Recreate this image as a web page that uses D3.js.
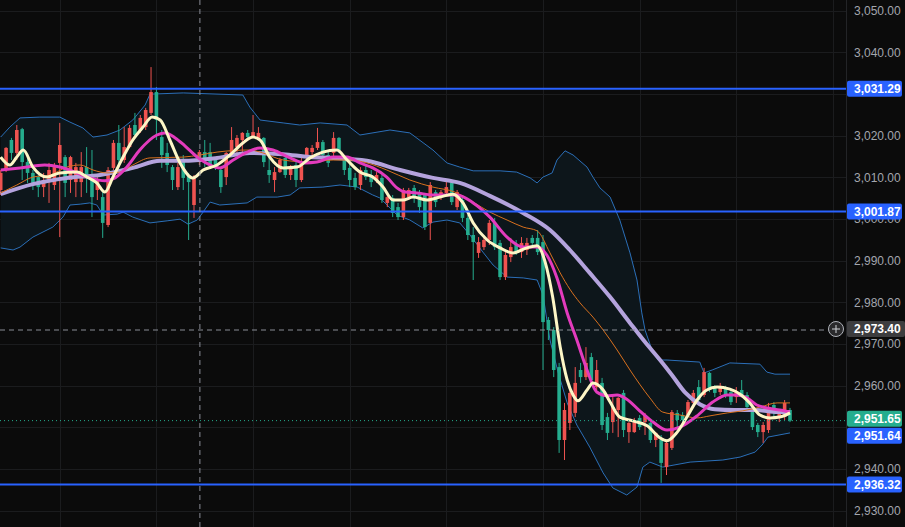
<!DOCTYPE html>
<html>
<head>
<meta charset="utf-8" />
<style>
  body { margin: 0; background: #0b0b0b; }
  svg { display: block; }
  .tick-label { font-family: 'Liberation Sans', Arial, sans-serif; font-size: 12px; fill: #a3a6ae; }
  .box-label { font-family: 'Liberation Sans', Arial, sans-serif; font-size: 12px; fill: #fff; font-weight: bold; }
</style>
</head>
<body>
<div class="chart"></div>
<script src="https://d3js.org/d3.v7.min.js"></script>
<script>

//// candles (open / high / low / close) ////
var opens = [3007.0,3011.8,3019.0,3015.9,3021.6,3013.7,3011.1,3010.1,3007.7,3008.9,3008.2,3013.5,3014.9,3009.4,3008.9,3008.9,3012.5,3010.6,3007.0,3005.3,
  2998.6,3012.3,3018.3,3014.2,3017.3,3022.6,3021.4,3022.1,3025.5,3030.5,3019.7,3015.9,3012.5,3007.7,3014.2,3010.6,3003.4,3013.7,3016.1,3016.1,
  3014.2,3011.8,3010.1,3015.9,3017.3,3019.0,3020.7,3019.7,3019.5,3019.5,3011.8,3009.4,3011.3,3014.7,3010.6,3013.0,3009.4,3014.9,3016.1,3017.1,
  3018.5,3015.4,3015.9,3019.5,3014.7,3012.3,3009.9,3008.2,3011.8,3010.6,3009.4,3009.9,3003.9,3005.1,3002.9,3000.5,3005.3,3007.5,3006.5,3005.8,
  2999.1,3006.5,3005.3,3006.3,3008.7,3002.9,3004.6,3000.3,2996.2,2991.9,2993.3,2995.0,2999.1,2994.3,2986.1,2990.9,2993.8,2992.1,2992.6,2995.5,
  2995.5,2994.5,2975.8,2973.4,2964.5,2947.0,2951.1,2953.5,2963.8,2962.1,2966.9,2959.7,2960.7,2952.5,2951.3,2954.2,2958.3,2948.9,2948.9,2952.3,
  2951.3,2951.1,2947.0,2947.0,2940.5,2945.1,2953.5,2953.0,2953.0,2955.9,2959.7,2957.8,2963.1,2959.7,2958.5,2959.5,2958.5,2957.3,2959.0,2957.8,
  2954.9,2950.6,2948.9,2949.4,2955.4,2952.3,2952.5,2954.2];
var highs = [3011.8,3017.3,3019.5,3022.6,3021.9,3014.9,3011.8,3010.6,3011.1,3013.5,3013.5,3023.1,3015.4,3015.2,3013.5,3016.1,3017.3,3016.6,3010.1,3006.5,
  3012.5,3019.0,3022.6,3022.1,3022.6,3025.5,3025.0,3026.7,3036.5,3031.7,3021.4,3018.3,3013.0,3013.5,3015.4,3011.1,3010.6,3016.6,3019.0,3018.3,
  3014.9,3012.5,3016.1,3022.1,3020.2,3020.9,3021.4,3025.0,3022.1,3019.7,3014.7,3012.5,3014.7,3015.4,3013.0,3014.2,3014.7,3017.3,3017.8,3021.9,
  3019.0,3016.6,3020.9,3019.7,3015.4,3014.2,3011.1,3012.5,3013.0,3011.8,3011.3,3010.6,3006.3,3005.8,3003.9,3007.5,3007.5,3008.2,3007.0,3006.3,
  3008.9,3007.0,3007.0,3009.4,3009.4,3007.0,3005.8,3001.0,2998.1,2995.7,2996.2,2999.8,3000.3,2995.0,2992.6,2995.5,2995.0,2995.7,2995.5,2996.2,
  2997.4,2996.2,2976.5,2974.1,2965.5,2955.9,2959.0,2964.5,2965.5,2969.3,2967.9,2966.2,2961.9,2953.5,2957.3,2957.3,2959.0,2951.3,2952.3,2953.0,
  2953.5,2951.3,2948.9,2948.2,2947.0,2954.2,2954.2,2953.7,2956.6,2959.0,2961.4,2964.3,2963.3,2960.2,2960.7,2960.0,2959.0,2959.7,2961.4,2958.5,
  2955.4,2951.1,2951.3,2955.9,2956.1,2954.2,2956.6,2954.7];
var lows = [3005.8,3011.3,3014.2,3014.2,3009.4,3008.7,3007.0,3005.3,3005.3,3003.9,3007.0,2995.7,3005.3,3006.3,3005.3,3005.3,3006.3,3000.5,3004.6,2995.5,
  2998.1,3011.8,3012.5,3013.5,3017.1,3019.7,3020.7,3021.4,3025.0,3019.0,3012.3,3011.3,3007.0,3007.0,3007.0,2995.0,3000.3,3013.0,3012.5,3012.5,
  3011.8,3006.3,3008.2,3014.9,3015.9,3015.9,3019.0,3019.5,3019.0,3012.5,3008.7,3006.5,3011.1,3009.9,3009.4,3007.7,3008.9,3014.2,3015.4,3016.6,
  3014.9,3012.5,3014.9,3015.9,3010.6,3007.7,3007.0,3007.0,3009.4,3007.7,3008.7,3003.9,3002.9,3000.5,2999.8,2999.8,3004.6,3003.9,3001.5,2997.4,
  2995.0,3002.9,3004.6,3005.8,3003.4,3002.2,2999.3,2995.0,2985.4,2990.7,2992.6,2993.8,2992.6,2985.4,2985.4,2989.7,2991.4,2990.7,2991.4,2993.1,
  2991.4,2963.8,2971.0,2962.1,2943.9,2942.2,2949.4,2952.5,2960.7,2961.4,2960.7,2959.0,2949.4,2947.0,2948.7,2947.7,2947.7,2946.3,2948.7,2949.4,
  2948.2,2946.3,2945.3,2936.7,2938.6,2944.6,2950.1,2950.1,2952.5,2954.9,2955.9,2957.3,2958.5,2957.3,2957.8,2957.1,2955.4,2955.9,2957.3,2954.2,
  2949.4,2947.7,2946.3,2948.7,2952.5,2951.3,2951.8,2951.3];
var closes = [3011.1,3017.1,3015.9,3021.4,3013.7,3011.1,3008.7,3007.7,3009.4,3011.8,3012.5,3017.8,3008.7,3014.9,3012.5,3012.5,3010.1,3005.3,3009.4,2999.1,
  3011.8,3018.3,3014.2,3017.3,3021.9,3020.2,3024.3,3026.2,3030.5,3023.8,3015.4,3013.0,3009.4,3012.5,3009.9,3008.9,3009.9,3016.1,3014.7,3013.0,
  3012.5,3007.7,3015.9,3019.0,3019.5,3020.7,3019.7,3020.9,3020.7,3013.7,3010.6,3011.3,3014.2,3010.6,3012.5,3009.4,3013.7,3017.1,3017.1,3018.5,
  3015.4,3013.5,3019.5,3016.6,3011.8,3009.4,3007.7,3011.8,3010.1,3008.9,3010.6,3004.6,3005.3,3001.5,3000.5,3007.0,3007.0,3005.1,3002.9,2998.1,
  3008.2,3004.1,3006.5,3007.7,3004.1,3006.5,3000.3,2996.2,2994.5,2994.5,2995.0,2999.1,2993.3,2986.1,2991.4,2993.3,2992.1,2994.3,2994.3,2994.3,
  2992.1,2975.3,2973.4,2963.8,2947.0,2954.2,2958.3,2960.7,2962.1,2965.5,2961.4,2963.8,2950.6,2948.7,2954.9,2957.1,2949.4,2951.1,2951.3,2950.1,
  2953.0,2947.0,2948.7,2941.5,2946.3,2953.7,2951.8,2951.8,2956.1,2958.3,2956.6,2963.3,2959.0,2958.3,2960.0,2957.8,2956.1,2958.5,2957.8,2954.9,
  2950.1,2948.9,2950.6,2954.9,2953.5,2953.7,2955.9,2951.65];

//// indicator lines, as (candle index, price) ////
var fastIdx = [0,1.7,3.0,4.2,6.0,8.6,11.0,14.2,16.1,17.9,19.4,20.9,22.8,24.6,26.5,28.2,29.7,31.5,33.4,35.8,37.7,40.3,42.7,45.1,47.0,48.3,50.1,52.6,55.2,57.6,
  60.0,62.6,64.5,66.9,69.3,71.2,73.1,74.9,76.8,79.4,81.8,84.2,86.1,88.0,90.6,93.0,95.4,98.0,99.9,101.4,102.8,104.2,105.5,106.6,107.5,109.2,110.3,112.2,113.5,115.3,
  117.7,120.4,122.8,124.1,126.0,127.8,129.7,131.5,133.4,135.8,137.7,139.5,141.4,143.3,145.1,147];
var fastVal = [3014.9,3013.0,3014.9,3016.6,3012.5,3010.1,3011.1,3011.3,3010.1,3008.7,3006.5,3010.1,3014.9,3019.0,3022.1,3024.5,3023.8,3019.0,3013.5,3009.9,
  3011.8,3013.0,3015.4,3018.3,3019.7,3019.0,3014.9,3012.3,3012.5,3014.7,3016.1,3016.6,3014.2,3011.3,3010.1,3007.7,3004.6,3004.6,3005.3,3004.6,
  3005.3,3006.0,3003.9,2999.1,2995.0,2993.1,2991.9,2993.1,2993.6,2989.7,2981.3,2969.3,2961.4,2957.8,2956.4,2959.0,2960.7,2959.0,2956.1,2952.5,
  2951.6,2950.4,2947.5,2946.8,2948.9,2952.5,2956.6,2959.0,2959.7,2959.2,2958.0,2955.9,2953.0,2952.3,2952.5,2953.5];

var midIdx = [0,3.6,8.2,11.0,13.8,16.6,19.4,21.3,23.5,25.9,29.1,30.6,32.5,34.3,36.6,39.0,40.8,43.3,45.9,48.3,50.7,53.9,56.7,58.9,61.9,64.5,66.9,69.3,71.9,73.8,
  75.3,77.5,80.5,82.7,85.0,88.0,91.1,94.3,97.3,99.9,101.7,103.6,105.5,107.3,109.2,111.0,112.9,114.8,116.6,119.0,121.5,124.1,126.5,129.7,132.6,135.3,137.1,139.0,140.8,142.7,
  145.1,147];
var midVal = [3011.8,3012.3,3013.0,3012.5,3011.3,3009.9,3009.2,3009.9,3012.5,3016.6,3020.2,3020.7,3019.5,3017.6,3014.9,3013.0,3012.3,3014.2,3016.1,3017.1,
  3016.6,3014.7,3013.5,3013.7,3014.9,3014.9,3013.5,3012.3,3010.1,3007.5,3006.5,3006.3,3005.8,3005.8,3005.8,3003.9,3000.5,2995.7,2993.3,2993.3,
  2991.4,2985.9,2977.5,2971.0,2963.8,2958.5,2957.6,2957.8,2956.8,2954.0,2951.3,2949.4,2950.1,2952.8,2956.1,2957.8,2957.8,2957.1,2955.4,2954.7,
  2954.2,2953.7];

var basisIdx = [0,3.0,6.0,9.2,12.3,14.8,17.2,19.8,22.2,24.6,27.8,34.0,37.1,40.3,46.4,48.8,52.6,57.6,61.9,65.1,68.2,71.9,76.2,80.5,84.6,88.0,91.1,94.3,97.3,99.9,
  102.3,104.2,106.0,107.9,110.3,112.2,114.8,117.2,119.0,120.9,123.3,126.5,129.7,132.1,135.3,138.2,141.4,144.6,147];
var basisVal = [3006.3,3008.2,3010.1,3010.6,3012.5,3013.0,3011.8,3011.1,3011.3,3013.0,3014.7,3014.9,3015.4,3016.1,3016.6,3015.9,3014.2,3013.7,3014.2,3014.2,
  3013.5,3011.8,3009.4,3007.7,3006.5,3004.1,3001.7,2999.8,2998.1,2997.2,2991.9,2987.1,2983.2,2979.9,2976.5,2973.4,2968.6,2963.8,2960.4,2957.1,
  2953.7,2953.0,2952.3,2952.8,2953.5,2954.0,2954.9,2955.9,2955.9];

var slowIdx = [0,6.0,12.3,18.5,24.6,29.7,34.0,40.3,46.4,52.6,57.6,61.9,68.2,74.4,80.5,85.5,91.1,97.3,102.3,106.0,109.7,113.5,117.2,120.0,122.8,125.0,127.4,130.2,133.0,136.7,
  140.8,144.6,147];
var slowVal = [3006.0,3008.4,3009.9,3010.6,3012.3,3014.0,3014.0,3014.7,3015.9,3015.6,3014.9,3014.7,3014.0,3011.8,3009.9,3008.7,3005.6,3001.5,2997.4,2992.6,
  2987.1,2981.3,2975.1,2970.5,2966.2,2962.6,2958.5,2955.6,2954.4,2954.2,2954.2,2953.7,2953.7];

var upperIdx = [0,1.7,3.6,7.3,11.0,12.9,15.3,17.2,19.8,22.2,24.6,26.9,27.8,34.0,45.1,46.4,48.3,52.6,55.7,59.5,64.5,66.9,72.5,76.2,80.5,83.1,85.5,88.0,93.0,96.1,
  98.6,99.9,101.0,102.7,103.6,105.1,106.6,109.2,110.3,111.6,113.5,115.3,117.2,118.5,119.4,120.0,121.3,122.4,124.1,130.2,131.0,132.5,135.8,141.4,142.7,144.2,147];
var upperVal = [3019.7,3022.1,3024.3,3024.5,3024.5,3023.3,3021.9,3019.7,3020.2,3021.4,3023.8,3027.4,3030.0,3030.3,3029.8,3026.9,3023.8,3023.1,3022.6,3023.1,
  3022.6,3020.2,3021.4,3020.7,3016.6,3013.5,3012.5,3011.6,3011.6,3011.3,3009.9,3008.7,3010.1,3011.1,3014.2,3016.4,3015.4,3012.5,3010.1,3007.5,
  3005.3,2999.8,2991.9,2985.4,2977.5,2973.4,2968.6,2966.2,2966.2,2965.7,2963.1,2963.8,2965.5,2965.2,2963.3,2962.8,2962.8];

var lowerIdx = [0,2.3,3.6,6.0,9.7,11.6,12.9,14.8,16.6,17.9,19.1,21.7,22.8,24.6,27.8,31.0,33.4,34.9,36.6,37.7,39.0,40.8,45.9,47.7,51.5,53.9,55.7,60.0,63.2,66.4,
  69.3,70.6,72.5,73.8,76.2,78.6,80.5,83.1,85.5,87.4,89.8,91.7,94.3,97.3,99.9,101.0,102.3,103.8,105.5,107.3,109.7,112.2,114.0,116.6,118.5,119.6,120.9,123.3,128.4,134.5,
  137.7,140.5,141.8,142.9,147];
var lowerVal = [2993.1,2992.6,2993.3,2995.7,2998.1,3000.5,3003.4,3003.6,3003.9,3003.4,3001.0,3001.2,3001.7,3000.5,2999.1,2999.6,3000.0,2998.8,2999.8,3001.7,
  3004.1,3003.4,3003.9,3005.3,3005.3,3005.8,3007.5,3007.7,3008.2,3007.7,3005.8,3005.1,3002.7,3001.0,2999.8,2997.9,2999.3,2999.8,2999.1,2996.2,
  2992.1,2989.0,2986.1,2985.9,2985.4,2981.8,2971.0,2963.3,2955.9,2950.6,2945.3,2939.1,2935.5,2933.8,2935.7,2940.5,2941.7,2940.5,2941.7,2942.2,
  2942.9,2944.1,2945.8,2947.7,2948.7];

//// levels, axis ////
var levels = [3031.29, 3001.87, 2936.32];
// 3,030 and 2,950 sit fully behind the price tags, so they are not listed
var yTicks = [3050, 3040, 3020, 3010, 3000, 2990, 2980, 2970, 2960, 2940, 2930];
var gridTicks = [3050, 3040, 3030, 3020, 3010, 3000, 2990, 2980, 2970, 2960, 2950, 2940, 2930];
var gridIdx = [11, 29, 47, 65, 83, 101, 119, 137, 155];
var crossIdx = 37.1, crossPrice = 2973.40;
var lastPrice = 2951.65, bidPrice = 2951.64;

var W = 905, H = 527, plotW = 847;

var x = d3.scaleLinear().domain([0, 147]).range([0.7, 790]);
var y = d3.scaleLinear().domain([3052.6, 2926.12]).range([0, H]);
var fmt = d3.format(",.2f");

var svg = d3.select(".chart").append("svg")
    .attr("width", W)
    .attr("height", H);

svg.append("rect").attr("width", W).attr("height", H).attr("fill", "#0b0b0b");

svg.append("defs").append("clipPath").attr("id", "plot")
  .append("rect").attr("width", plotW).attr("height", H);

var plot = svg.append("g").attr("clip-path", "url(#plot)");

// grid
plot.append("g").selectAll("line").data(gridTicks).enter().append("line")
    .attr("x1", 0).attr("x2", plotW)
    .attr("y1", function(d) { return Math.round(y(d)) + 0.5; })
    .attr("y2", function(d) { return Math.round(y(d)) + 0.5; })
    .attr("stroke", "#1b1c1e");
plot.append("g").selectAll("line").data(gridIdx).enter().append("line")
    .attr("y1", 0).attr("y2", H)
    .attr("x1", function(d) { return Math.round(x(d)) + 0.5; })
    .attr("x2", function(d) { return Math.round(x(d)) + 0.5; })
    .attr("stroke", "#1b1c1e");

function pts(idx, val) {
  return idx.map(function(d, i) { return [d, val[i]]; });
}

// bollinger fill + bands
var upper = pts(upperIdx, upperVal), lower = pts(lowerIdx, lowerVal);
var lineL = d3.line().x(function(d) { return x(d[0]); }).y(function(d) { return y(d[1]); });
plot.append("path")
    .attr("d", lineL(upper.concat(lower.slice().reverse())) + "Z")
    .attr("fill", "#0d161b");
[upper, lower].forEach(function(b) {
  plot.append("path").attr("d", lineL(b))
      .attr("fill", "none").attr("stroke", "#2b6fb8").attr("stroke-width", 1);
});

// candles
var candles = opens.map(function(o, i) {
  return { i: i, o: o, h: highs[i], l: lows[i], c: closes[i] };
});
var cg = plot.append("g").selectAll("g").data(candles).enter().append("g");
function col(d) { return d.c >= d.o ? "#ef5350" : "#25ad8e"; }
cg.append("line")
    .attr("x1", function(d) { return x(d.i); })
    .attr("x2", function(d) { return x(d.i); })
    .attr("y1", function(d) { return y(d.h); })
    .attr("y2", function(d) { return y(d.l); })
    .attr("stroke", col).attr("stroke-width", 1);
cg.append("rect")
    .attr("x", function(d) { return x(d.i) - 1.8; })
    .attr("width", 3.6)
    .attr("y", function(d) { return y(Math.max(d.o, d.c)); })
    .attr("height", function(d) { return Math.max(1, Math.abs(y(d.o) - y(d.c))); })
    .attr("fill", col);

// moving averages
var curve = d3.line().curve(d3.curveMonotoneX)
    .x(function(d) { return x(d[0]); }).y(function(d) { return y(d[1]); });
plot.append("path").attr("d", curve(pts(slowIdx, slowVal)))
    .attr("fill", "none").attr("stroke", "#b4a3dd").attr("stroke-width", 4);
plot.append("path").attr("d", curve(pts(basisIdx, basisVal)))
    .attr("fill", "none").attr("stroke", "#d8701e").attr("stroke-width", 1);
plot.append("path").attr("d", curve(pts(midIdx, midVal)))
    .attr("fill", "none").attr("stroke", "#e33bbd").attr("stroke-width", 3);
plot.append("path").attr("d", curve(pts(fastIdx, fastVal)))
    .attr("fill", "none").attr("stroke", "#fdf6c6").attr("stroke-width", 3);

// horizontal levels
plot.append("g").selectAll("line").data(levels).enter().append("line")
    .attr("x1", 0).attr("x2", plotW)
    .attr("y1", function(d) { return y(d); })
    .attr("y2", function(d) { return y(d); })
    .attr("stroke", "#2962ff").attr("stroke-width", 2);

// last price dotted line
plot.append("line")
    .attr("x1", 0).attr("x2", plotW)
    .attr("y1", y(lastPrice)).attr("y2", y(lastPrice))
    .attr("stroke", "#25ad8e").attr("stroke-width", 1).attr("stroke-dasharray", "1,3");

// crosshair
plot.append("line")
    .attr("x1", x(crossIdx)).attr("x2", x(crossIdx)).attr("y1", 0).attr("y2", H)
    .attr("stroke", "#8a8d96").attr("stroke-dasharray", "5,4");
plot.append("line")
    .attr("x1", 0).attr("x2", plotW).attr("y1", y(crossPrice)).attr("y2", y(crossPrice))
    .attr("stroke", "#8a8d96").attr("stroke-dasharray", "5,4");

// price axis
svg.append("line").attr("x1", plotW - 0.5).attr("x2", plotW - 0.5).attr("y1", 0).attr("y2", H)
    .attr("stroke", "#232427");
svg.append("g").selectAll("text").data(yTicks).enter().append("text")
    .attr("class", "tick-label")
    .attr("x", 854).attr("y", function(d) { return y(d); }).attr("dy", "0.35em")
    .text(function(d) { return fmt(d); });

function boxLabel(v, yc, bg, w) {
  var g = svg.append("g");
  g.append("rect").attr("x", plotW).attr("y", yc - 8).attr("width", w).attr("height", 16)
      .attr("rx", 2).attr("fill", bg);
  g.append("text").attr("class", "box-label")
      .attr("x", 854).attr("y", yc).attr("dy", "0.35em").text(fmt(v));
}
levels.forEach(function(v) { boxLabel(v, y(v), "#2962ff", 55); });
boxLabel(crossPrice, y(crossPrice) - 1, "#3d3d3f", 58);
boxLabel(lastPrice, y(lastPrice) - 2, "#25ad8e", 55);
boxLabel(bidPrice, y(lastPrice) + 15, "#2962ff", 55);

// plus button on crosshair
var pb = svg.append("g").attr("transform", "translate(836," + (y(crossPrice) - 1) + ")");
pb.append("circle").attr("r", 7.5).attr("fill", "#2a2a2c").attr("stroke", "#b0b3ba").attr("stroke-width", 1);
pb.append("path").attr("d", "M-4,0H4M0,-4V4").attr("stroke", "#d0d2d6").attr("stroke-width", 1);

</script>
</body>
</html>
